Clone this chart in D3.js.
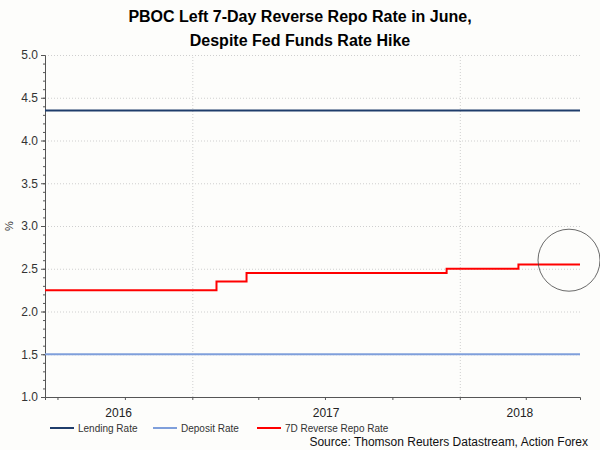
<!DOCTYPE html>
<html>
<head>
<meta charset="utf-8">
<script src="https://cdn.jsdelivr.net/npm/d3@7"></script>
<style>
  body { margin: 0; background: #fdfdfb; }
  svg { font-family: "Liberation Sans", Arial, sans-serif; }
</style>
</head>
<body>
<div id="chart"></div>
<script>
// Series data (step changes)
const lendingDates = ['2016-06-14', '2018-06-14'];
const lendingValues = [4.35, 4.35];

const depositDates = ['2016-06-14', '2018-06-14'];
const depositValues = [1.5, 1.5];

const repoDates = ['2016-06-14', '2017-02-03', '2017-03-16', '2017-12-14', '2018-03-22', '2018-06-14'];
const repoValues = [2.25, 2.35, 2.45, 2.50, 2.55, 2.55];

const yTicks = [1.0, 1.5, 2.0, 2.5, 3.0, 3.5, 4.0, 4.5, 5.0];
const yearLabels = ['2016', '2017', '2018'];

const seriesNames = ['Lending Rate', 'Deposit Rate', '7D Reverse Repo Rate'];
const seriesColors = ['#1f3d6b', '#7f9fdb', '#ff0000'];

const parse = d3.timeParse('%Y-%m-%d');

const width = 600, height = 450;
const margin = { top: 55, right: 20, bottom: 53, left: 45 };

const svg = d3.select('#chart').append('svg')
  .attr('width', width)
  .attr('height', height);

const x = d3.scaleTime()
  .domain([parse('2016-06-14'), parse('2018-06-14')])
  .range([margin.left, width - margin.right]);

const y = d3.scaleLinear()
  .domain([1, 5])
  .range([height - margin.bottom, margin.top]);

// Title
svg.append('text')
  .attr('x', 300).attr('y', 22)
  .attr('text-anchor', 'middle')
  .attr('font-size', 16).attr('font-weight', 'bold')
  .text('PBOC Left 7-Day Reverse Repo Rate in June,');
svg.append('text')
  .attr('x', 300).attr('y', 46)
  .attr('text-anchor', 'middle')
  .attr('font-size', 16).attr('font-weight', 'bold')
  .text('Despite Fed Funds Rate Hike');

// Horizontal grid
svg.append('g')
  .attr('class', 'grid')
  .attr('transform', `translate(${margin.left},0)`)
  .call(d3.axisLeft(y).tickValues(yTicks)
    .tickSize(-(width - margin.left - margin.right)).tickFormat(''));

// Vertical grid at year boundaries
const yearStarts = [parse('2017-01-01'), parse('2018-01-01')];
svg.append('g')
  .attr('class', 'grid')
  .attr('transform', `translate(0,${height - margin.bottom})`)
  .call(d3.axisBottom(x).tickValues(yearStarts)
    .tickSize(-(height - margin.top - margin.bottom)).tickFormat(''));

svg.selectAll('.grid line')
  .attr('stroke', '#cfcfcf')
  .attr('stroke-dasharray', '1,2');
svg.selectAll('.grid path').remove();

// Y axis
const yAxis = svg.append('g')
  .attr('class', 'axis')
  .attr('transform', `translate(${margin.left},0)`)
  .call(d3.axisLeft(y).tickValues(yTicks).tickFormat(d3.format('.1f')).tickSize(4));
yAxis.selectAll('text').attr('font-size', 12).attr('fill', '#333');

// minor ticks
svg.append('g')
  .attr('class', 'axis')
  .attr('transform', `translate(${margin.left},0)`)
  .call(d3.axisLeft(y).ticks(40).tickFormat('').tickSize(2))
  .call(g => g.select('.domain').remove());

// X axis: quarterly ticks
const quarterTicks = d3.timeMonth.every(3).range(x.domain()[0], x.domain()[1]);
svg.append('g')
  .attr('class', 'axis')
  .attr('transform', `translate(0,${height - margin.bottom})`)
  .call(d3.axisBottom(x).tickValues(quarterTicks).tickFormat('').tickSize(3));

svg.selectAll('.axis .domain, .axis .tick line').attr('stroke', '#555');

// Year labels centered in visible part of each year
const [d0, d1] = x.domain();
yearLabels.forEach(yr => {
  const a = new Date(Math.max(+parse(yr + '-01-01'), +d0));
  const b = new Date(Math.min(+parse((+yr + 1) + '-01-01'), +d1));
  svg.append('text')
    .attr('x', (x(a) + x(b)) / 2)
    .attr('y', height - margin.bottom + 20)
    .attr('text-anchor', 'middle')
    .attr('font-size', 12).attr('fill', '#222')
    .text(yr);
});

// Y label
svg.append('text')
  .attr('transform', `translate(13,${y(3)}) rotate(-90)`)
  .attr('text-anchor', 'middle')
  .attr('font-size', 11).attr('fill', '#333')
  .text('%');

// Lines
const line = d3.line()
  .x(d => x(d.date))
  .y(d => y(d.value))
  .curve(d3.curveStepAfter);

function toPoints(dates, values) {
  return dates.map((d, i) => ({ date: parse(d), value: values[i] }));
}

const series = [
  toPoints(lendingDates, lendingValues),
  toPoints(depositDates, depositValues),
  toPoints(repoDates, repoValues)
];

series.forEach((s, i) => {
  svg.append('path')
    .datum(s)
    .attr('fill', 'none')
    .attr('stroke', seriesColors[i])
    .attr('stroke-width', 2)
    .attr('d', line);
});

// Annotation circle
svg.append('circle')
  .attr('cx', x(parse('2018-05-30')))
  .attr('cy', y(2.6))
  .attr('r', 31)
  .attr('fill', 'none')
  .attr('stroke', '#444')
  .attr('stroke-width', 0.8);

// Legend
const legendX = [50, 153, 257];
seriesNames.forEach((name, i) => {
  const g = svg.append('g').attr('transform', `translate(${legendX[i]},428)`);
  g.append('line')
    .attr('x1', 0).attr('x2', 24)
    .attr('stroke', seriesColors[i]).attr('stroke-width', 2);
  g.append('text')
    .attr('x', 28).attr('y', 4)
    .attr('font-size', 10).attr('fill', '#333')
    .text(name);
});

// Source
svg.append('text')
  .attr('x', 588).attr('y', 446)
  .attr('text-anchor', 'end')
  .attr('font-size', 12).attr('fill', '#111')
  .text('Source: Thomson Reuters Datastream, Action Forex');
</script>
</body>
</html>
